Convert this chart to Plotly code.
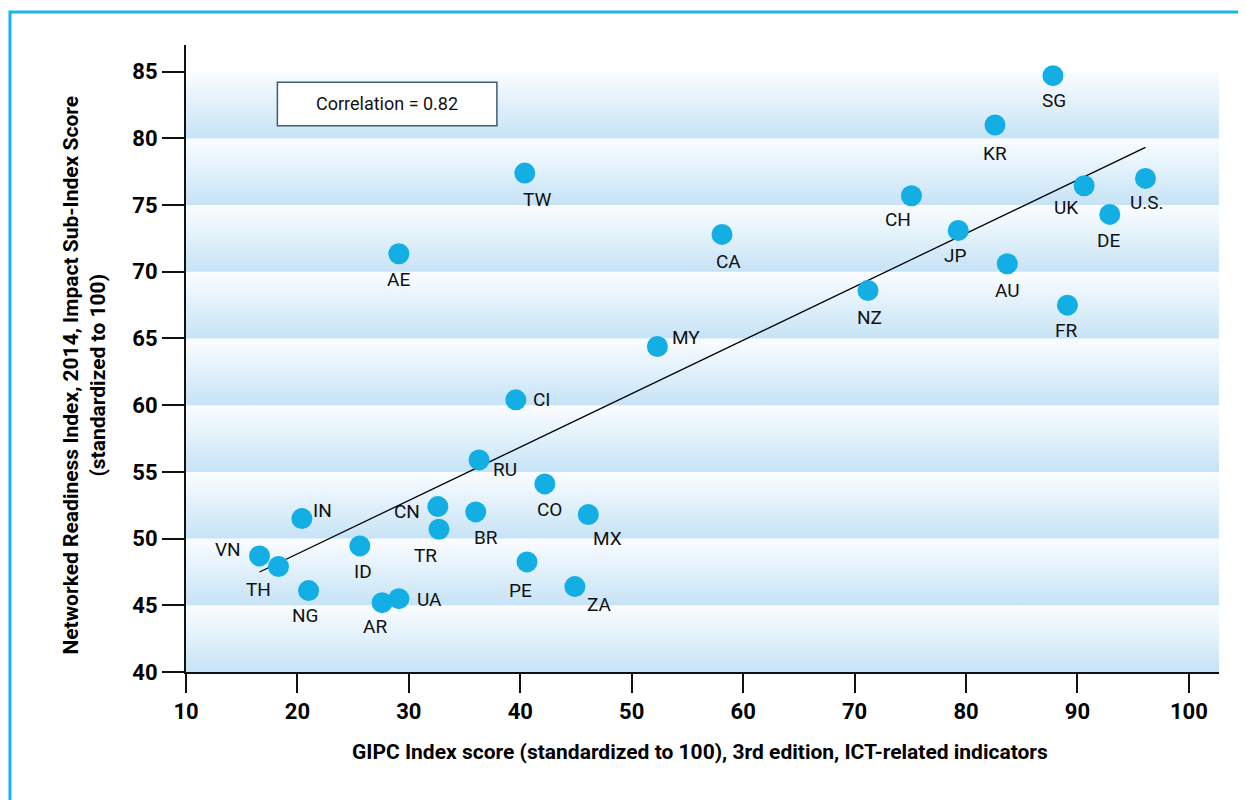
import numpy as np
import plotly.graph_objects as go

# country codes, GIPC score (x) and NRI impact score (y)
countries = ["SG", "KR", "TW", "CH", "UK", "U.S.", "DE", "CA", "JP", "AE",
             "AU", "NZ", "FR", "MY", "CI", "RU", "CO", "CN", "BR", "MX",
             "IN", "TR", "ID", "VN", "PE", "TH", "NG", "ZA", "UA", "AR"]
gipc = [87.8, 82.6, 40.4, 75.1, 90.6, 96.1, 92.9, 58.1, 79.3, 29.1,
        83.7, 71.2, 89.1, 52.3, 39.6, 36.3, 42.2, 32.6, 36.0, 46.1,
        20.4, 32.7, 25.6, 16.6, 40.6, 18.3, 21.0, 44.9, 29.1, 27.6]
nri = [84.7, 81.0, 77.4, 75.7, 76.45, 77.0, 74.3, 72.8, 73.1, 71.35,
       70.6, 68.6, 67.5, 64.4, 60.4, 55.9, 54.1, 52.4, 52.0, 51.8,
       51.5, 50.7, 49.45, 48.7, 48.25, 47.9, 46.1, 46.4, 45.5, 45.2]
correlation = 0.82

x_ticks = [10, 20, 30, 40, 50, 60, 70, 80, 90, 100]
y_ticks = [40, 45, 50, 55, 60, 65, 70, 75, 80, 85]

# label offsets in pixels (dx right, dy down)
label_off = {
    "SG": (1, 25), "KR": (0, 28), "TW": (12, 26), "CH": (-13, 24), "UK": (-18, 22),
    "U.S.": (2, 24), "DE": (-1, 26), "CA": (6, 27), "JP": (-3, 25), "AE": (0, 26),
    "AU": (0, 27), "NZ": (2, 27), "FR": (-1, 25), "MY": (29, -9), "CI": (26, 0),
    "RU": (26, 10), "CO": (5, 26), "CN": (-31, 5), "BR": (10, 26), "MX": (19, 24),
    "IN": (21, -8), "TR": (-13, 26), "ID": (3, 26), "VN": (-32, -6), "PE": (-6, 29),
    "TH": (-20, 23), "NG": (-3, 25), "ZA": (25, 18), "UA": (31, 1), "AR": (-7, 24),
}

XMAX = 102.7
YMAX = 87.0
FONT = "Liberation Sans Narrow, Roboto, Arial Narrow, sans-serif"
BLUE = "#13aee4"

fig = go.Figure()

# gradient bands between y ticks
for lo, hi in zip(y_ticks[:-1], y_ticks[1:]):
    fig.add_scatter(x=[10, XMAX, XMAX, 10, 10], y=[lo, lo, hi, hi, lo],
                    mode="lines", line=dict(width=0), fill="toself",
                    fillgradient=dict(type="vertical",
                                      colorscale=[[0, "#c6e3f6"], [1, "#fbfdff"]]),
                    hoverinfo="skip", showlegend=False)

# least squares trend line
slope, icpt = np.polyfit(gipc, nri, 1)
xl = np.array([min(gipc), max(gipc)])
fig.add_scatter(x=xl, y=slope * xl + icpt, mode="lines",
                line=dict(color="black", width=1.3), hoverinfo="skip", showlegend=False)

fig.add_scatter(x=gipc, y=nri, mode="markers", text=countries,
                marker=dict(size=21, color=BLUE), showlegend=False)

for c, xv, yv in zip(countries, gipc, nri):
    dx, dy = label_off[c]
    fig.add_annotation(x=xv, y=yv, text=c, showarrow=False, xshift=dx, yshift=-dy,
                       xanchor="center", yanchor="middle",
                       font=dict(family=FONT, size=19, color="#111", weight="normal"))

# correlation box
fig.add_shape(type="rect", x0=18.2, x1=37.9, y0=80.95, y1=84.2,
              fillcolor="white", line=dict(color="#3d5c73", width=1.5))
fig.add_annotation(x=28.05, y=82.6, text=f"Correlation = {correlation}", showarrow=False,
                   xanchor="center", yanchor="middle",
                   font=dict(family=FONT, size=18, color="#111", weight="normal"))

# outer cyan frame
fig.add_shape(type="rect", xref="paper", yref="paper", x0=-0.1704, x1=1.2, y0=-0.4, y1=1.0526,
              line=dict(color="#1ab4e8", width=3), fillcolor="rgba(0,0,0,0)", layer="below")

fig.add_annotation(xref="paper", yref="paper", x=-0.098, y=0.474, textangle=-90,
                   xanchor="center", yanchor="middle",
                   text="Networked Readiness Index, 2014, Impact Sub-Index Score<br>(standardized to 100)",
                   showarrow=False, font=dict(family=FONT, size=21, color="black", weight="bold"))
fig.add_annotation(xref="paper", yref="paper", x=0.4976, y=-0.128,
                   xanchor="center", yanchor="middle",
                   text="GIPC Index score (standardized to 100), 3rd edition, ICT-related indicators",
                   showarrow=False, font=dict(family=FONT, size=21, color="black", weight="bold"))

fig.update_xaxes(range=[10, XMAX], tickvals=x_ticks, showgrid=False, zeroline=False,
                 showline=True, linecolor="#111", linewidth=2,
                 ticks="outside", ticklen=19, tickcolor="#111", tickwidth=1.5,
                 tickfont=dict(family=FONT, size=22, color="black", weight="bold"))
fig.update_yaxes(range=[40, YMAX], tickvals=y_ticks, showgrid=False, zeroline=False,
                 showline=True, linecolor="#111", linewidth=2,
                 ticks="outside", ticklen=22, tickcolor="#111", tickwidth=1.5,
                 tickfont=dict(family=FONT, size=22, color="black", weight="bold"))

# page body adds an 8px offset, so the figure is sized/margined to compensate
fig.update_layout(width=1238, height=792, margin=dict(l=178, r=27, t=37, b=128),
                  plot_bgcolor="white", paper_bgcolor="white",
                  font=dict(family=FONT))

fig.write_html("out.html")
